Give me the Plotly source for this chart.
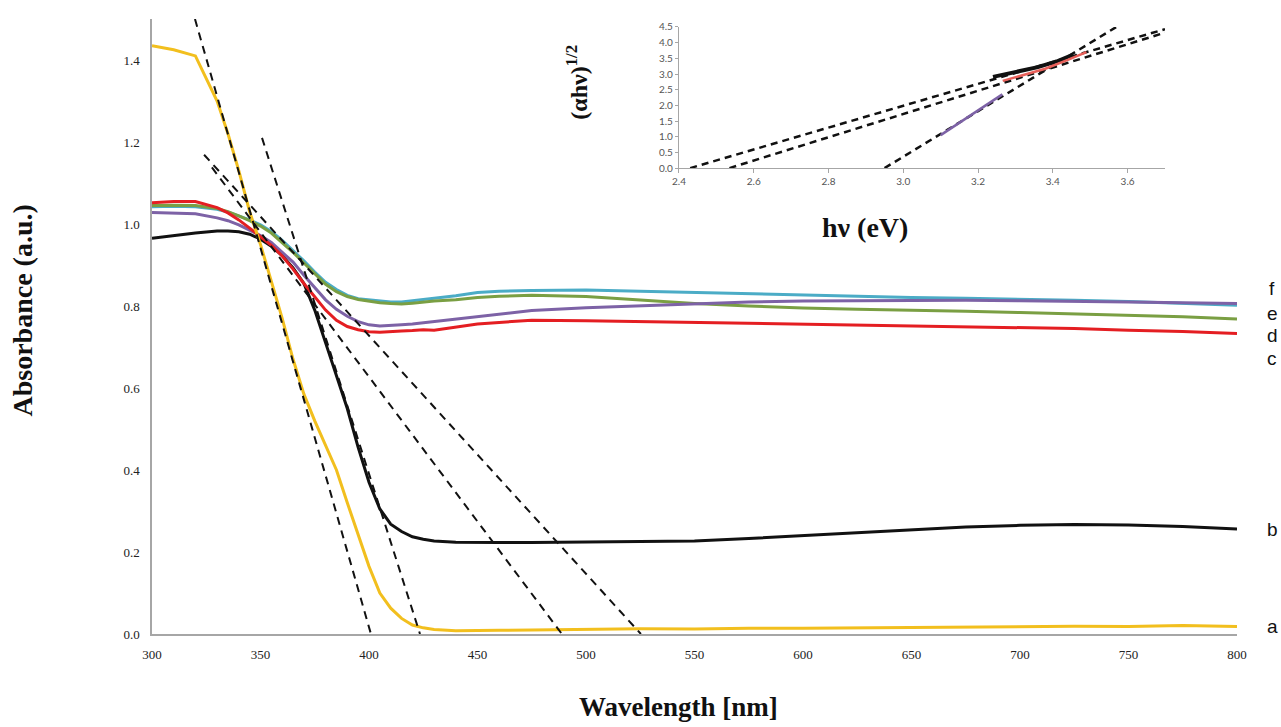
import plotly.graph_objects as go

# ---------------- main spectra data ----------------
wavelength = [300, 310, 320, 330, 335, 340, 345, 350, 355, 360, 365, 370, 375, 380, 385, 390, 395,
              400, 405, 410, 415, 420, 425, 430, 440, 450, 460, 475, 500, 525, 550, 575, 600, 625,
              650, 675, 700, 725, 750, 775, 800]

abs_a = [1.435, 1.425, 1.41, 1.30, 1.22, 1.13, 1.03, 0.95, 0.86, 0.77, 0.67, 0.585, 0.52, 0.46, 0.40,
         0.32, 0.24, 0.165, 0.10, 0.063, 0.038, 0.022, 0.015, 0.011, 0.008, 0.008, 0.009, 0.010, 0.011,
         0.013, 0.012, 0.014, 0.014, 0.015, 0.016, 0.017, 0.018, 0.019, 0.018, 0.021, 0.018]

abs_b = [0.965, 0.972, 0.978, 0.983, 0.983, 0.981, 0.975, 0.963, 0.946, 0.923, 0.893, 0.855, 0.79,
         0.71, 0.63, 0.55, 0.455, 0.37, 0.305, 0.268, 0.250, 0.237, 0.231, 0.227, 0.224, 0.223, 0.223,
         0.223, 0.224, 0.225, 0.227, 0.233, 0.240, 0.248, 0.255, 0.261, 0.265, 0.267, 0.266, 0.262, 0.256]

abs_c = [1.052, 1.055, 1.055, 1.04, 1.027, 1.01, 0.99, 0.97, 0.948, 0.922, 0.89, 0.855, 0.822, 0.79,
         0.765, 0.75, 0.742, 0.737, 0.736, 0.738, 0.739, 0.740, 0.742, 0.741, 0.748, 0.756, 0.760,
         0.765, 0.764, 0.762, 0.760, 0.757, 0.755, 0.753, 0.752, 0.750, 0.747, 0.745, 0.741, 0.738, 0.733]

abs_d = [1.028, 1.027, 1.025, 1.015, 1.008, 0.998, 0.986, 0.972, 0.955, 0.932, 0.907, 0.875, 0.845,
         0.815, 0.792, 0.775, 0.762, 0.754, 0.751, 0.752, 0.754, 0.756, 0.759, 0.762, 0.768, 0.775,
         0.781, 0.789, 0.796, 0.801, 0.806, 0.810, 0.812, 0.813, 0.814, 0.814, 0.813, 0.812, 0.810,
         0.808, 0.806]

abs_e = [1.045, 1.046, 1.045, 1.038, 1.03, 1.02, 1.008, 0.995, 0.978, 0.955, 0.931, 0.905, 0.878,
         0.853, 0.835, 0.823, 0.816, 0.812, 0.808, 0.806, 0.805, 0.807, 0.810, 0.812, 0.815, 0.821,
         0.824, 0.826, 0.823, 0.815, 0.806, 0.800, 0.795, 0.792, 0.790, 0.787, 0.784, 0.781, 0.778,
         0.774, 0.768]

abs_f = [1.042, 1.043, 1.042, 1.036, 1.029, 1.02, 1.01, 0.998, 0.982, 0.96, 0.936, 0.91, 0.883,
         0.858, 0.84, 0.826, 0.818, 0.815, 0.812, 0.810, 0.810, 0.813, 0.817, 0.820, 0.825, 0.833,
         0.836, 0.838, 0.839, 0.836, 0.833, 0.830, 0.826, 0.823, 0.821, 0.819, 0.817, 0.814, 0.811,
         0.806, 0.802]

series_names = ["b", "f", "e", "d", "c", "a"]
series_values = {"a": abs_a, "b": abs_b, "c": abs_c, "d": abs_d, "e": abs_e, "f": abs_f}
series_colors = {"a": "#F2BF1E", "b": "#111111", "c": "#E41E22", "d": "#7D62A6",
                 "e": "#7A9F43", "f": "#4BACC6"}

# tangent (extrapolation) lines on main plot: (x0, y0) -> (x1, y1)
tangent_x0 = [319.8, 350.7, 324.0, 327.6]
tangent_y0 = [1.50, 1.21, 1.169, 1.138]
tangent_x1 = [400.9, 423.5, 525.3, 488.9]
tangent_y1 = [0.0, 0.0, 0.0, 0.0]

# right-side curve labels
label_text = ["a", "b", "c", "d", "e", "f"]
label_y = [0.019, 0.254, 0.673, 0.729, 0.782, 0.843]

main_xticks = [300, 350, 400, 450, 500, 550, 600, 650, 700, 750, 800]
main_yticks = [0.0, 0.2, 0.4, 0.6, 0.8, 1.0, 1.2, 1.4]

# ---------------- inset (Tauc plot) data ----------------
inset_dash_x0 = [2.43, 2.535, 2.95]
inset_dash_y0 = [0.0, 0.0, 0.0]
inset_dash_x1 = [3.70, 3.70, 3.57]
inset_dash_y1 = [4.43, 4.32, 4.50]

inset_purple_x = [3.10, 3.265]
inset_purple_y = [1.05, 2.35]
inset_black_x = [3.24, 3.30, 3.36, 3.41, 3.455]
inset_black_y = [2.91, 3.06, 3.22, 3.40, 3.62]
inset_red_x = [3.266, 3.32, 3.38, 3.44, 3.49]
inset_red_y = [2.78, 2.97, 3.17, 3.45, 3.70]

inset_xticks = [2.4, 2.6, 2.8, 3.0, 3.2, 3.4, 3.6]
inset_yticks = [0.0, 0.5, 1.0, 1.5, 2.0, 2.5, 3.0, 3.5, 4.0, 4.5]

fig = go.Figure()

for name in series_names:
    fig.add_trace(go.Scatter(x=wavelength, y=series_values[name], mode="lines",
                             line=dict(color=series_colors[name], width=3),
                             name=name, showlegend=False, hoverinfo="skip"))

for i in range(len(tangent_x0)):
    fig.add_trace(go.Scatter(x=[tangent_x0[i], tangent_x1[i]], y=[tangent_y0[i], tangent_y1[i]],
                             mode="lines", line=dict(color="#111111", width=2, dash="8px,6px"),
                             showlegend=False, hoverinfo="skip"))

# inset traces
for i in range(len(inset_dash_x0)):
    fig.add_trace(go.Scatter(x=[inset_dash_x0[i], inset_dash_x1[i]], y=[inset_dash_y0[i], inset_dash_y1[i]],
                             mode="lines", line=dict(color="#111111", width=2.5, dash="7px,5px"),
                             xaxis="x2", yaxis="y2", showlegend=False, hoverinfo="skip"))
fig.add_trace(go.Scatter(x=inset_purple_x, y=inset_purple_y, mode="lines",
                         line=dict(color="#7D62A6", width=2.5), xaxis="x2", yaxis="y2",
                         showlegend=False, hoverinfo="skip"))
fig.add_trace(go.Scatter(x=inset_black_x, y=inset_black_y, mode="lines",
                         line=dict(color="#111111", width=4), xaxis="x2", yaxis="y2",
                         showlegend=False, hoverinfo="skip"))
fig.add_trace(go.Scatter(x=inset_red_x, y=inset_red_y, mode="lines",
                         line=dict(color="#E8605A", width=2.5), xaxis="x2", yaxis="y2",
                         showlegend=False, hoverinfo="skip"))

serif = "Liberation Serif, Times New Roman, serif"

annotations = []
for t, y in zip(label_text, label_y):
    annotations.append(dict(x=800, y=y, xref="x", yref="y", text=t, showarrow=False,
                            xanchor="center", yanchor="middle", xshift=35,
                            font=dict(family="Liberation Sans, Arial, sans-serif", size=19, color="#111111")))

annotations += [
    dict(x=-0.1198, y=0.526, xref="paper", yref="paper", text="<b>Absorbance (a.u.)</b>",
         showarrow=False, textangle=-90, xanchor="center", yanchor="middle",
         font=dict(family=serif, size=28, color="#111111")),
    dict(x=0.4848, y=-0.119, xref="paper", yref="paper", text="<b>Wavelength [nm]</b>",
         showarrow=False, xanchor="center", yanchor="middle",
         font=dict(family=serif, size=27, color="#111111")),
    dict(x=0.3917, y=0.898, xref="paper", yref="paper", text="<b>(αhν)<sup>1/2</sup></b>",
         showarrow=False, textangle=-90, xanchor="center", yanchor="middle",
         font=dict(family=serif, size=24, color="#111111")),
    dict(x=0.657, y=0.6606, xref="paper", yref="paper", text="<b>hν (eV)</b>",
         showarrow=False, xanchor="center", yanchor="middle",
         font=dict(family=serif, size=28, color="#111111")),
]

fig.update_layout(
    width=1281, height=727,
    margin=dict(l=152, r=44, t=15, b=93),
    paper_bgcolor="white", plot_bgcolor="rgba(0,0,0,0)",
    showlegend=False,
    xaxis=dict(domain=[0, 1], range=[300, 800], tickvals=main_xticks,
               showgrid=False, zeroline=False, showline=True, linecolor="#A6A6A6", linewidth=1.5,
               ticks="", ticklabelstandoff=8,
               tickfont=dict(family=serif, size=13, color="#222222")),
    yaxis=dict(domain=[0, 1], range=[0, 1.5], tickvals=main_yticks, tickformat=".1f",
               showgrid=False, zeroline=False, showline=True, linecolor="#A6A6A6", linewidth=1.5,
               ticks="", ticklabelstandoff=8,
               tickfont=dict(family=serif, size=13, color="#222222")),
    xaxis2=dict(domain=[0.4857, 0.9336], range=[2.4, 3.7], tickvals=inset_xticks, tickformat=".1f",
                anchor="y2", showgrid=False, zeroline=False, showline=True, linecolor="#A6A6A6",
                linewidth=1.2, ticks="outside", ticklen=4, tickcolor="#A6A6A6",
                tickfont=dict(family="Lato, sans-serif", size=10, color="#555555")),
    yaxis2=dict(domain=[0.7576, 0.987], range=[0, 4.5], tickvals=inset_yticks, tickformat=".1f",
                anchor="x2", showgrid=False, zeroline=False, showline=True, linecolor="#A6A6A6",
                linewidth=1.2, ticks="outside", ticklen=3, tickcolor="#A6A6A6",
                tickfont=dict(family="Lato, sans-serif", size=10, color="#555555")),
    annotations=annotations,
)

fig.write_html("out.html", config={"displayModeBar": False},
               post_script="document.body.style.margin='0';")
